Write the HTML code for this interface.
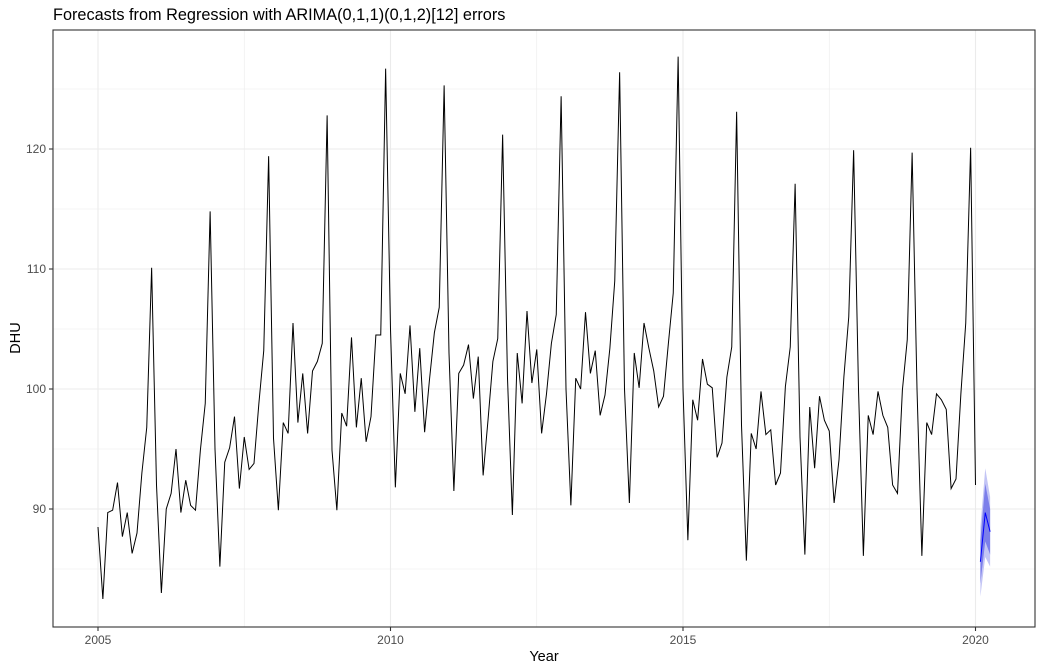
<!DOCTYPE html>
<html><head><meta charset="utf-8"><style>
body{margin:0;background:#fff;}
svg{display:block;font-family:"Liberation Sans",Arial,sans-serif;}
</style></head><body>
<svg id="chart" width="1043" height="671">
<text x="53" y="20" font-size="16.3" fill="#000">Forecasts from Regression with ARIMA(0,1,1)(0,1,2)[12] errors</text>
<g id="grid"></g>
<g id="band"></g>
<g id="lines"></g>
<rect x="53" y="30" width="982" height="597" fill="none" stroke="#333" stroke-width="1.1"/>
<g id="axes"></g>
<text x="544" y="661" font-size="14.5" text-anchor="middle" fill="#000">Year</text>
<text x="20" y="338" font-size="14.5" text-anchor="middle" fill="#000" transform="rotate(-90 20 338)">DHU</text>
</svg>
<script>
const startYear = 2005;
const dhu = [
88.5,82.5,89.7,89.9,92.2,87.7,89.7,86.3,88.0,93.0,96.8,110.1,
92.0,83.0,90.0,91.3,95.0,89.7,92.4,90.3,89.9,94.9,98.8,114.8,
95.0,85.2,93.9,95.1,97.7,91.7,96.0,93.3,93.8,98.8,103.2,119.4,
95.9,89.9,97.2,96.3,105.5,97.2,101.3,96.3,101.5,102.3,103.8,122.8,
94.9,89.9,98.0,96.9,104.3,96.8,100.9,95.6,97.7,104.5,104.5,126.7,
105.0,91.8,101.3,99.6,105.3,98.1,103.4,96.4,100.8,104.7,106.8,125.3,
103.0,91.5,101.3,102.0,103.7,99.2,102.7,92.8,97.4,102.3,104.2,121.2,
100.9,89.5,103.0,98.8,106.5,100.5,103.3,96.3,99.6,103.8,106.2,124.4,
100.0,90.3,100.9,100.0,106.4,101.3,103.2,97.8,99.5,103.4,109.0,126.4,
100.0,90.5,103.0,100.1,105.5,103.4,101.5,98.5,99.4,103.8,108.0,127.7,
100.0,87.4,99.1,97.4,102.5,100.4,100.1,94.3,95.5,101.0,103.5,123.1,
97.0,85.7,96.3,95.0,99.8,96.2,96.6,92.0,93.0,100.2,103.5,117.1,
96.0,86.2,98.5,93.4,99.4,97.4,96.5,90.5,94.1,101.0,106.0,119.9,
100.0,86.1,97.8,96.2,99.8,97.8,96.8,92.0,91.3,99.9,104.1,119.7,
100.0,86.1,97.2,96.2,99.6,99.1,98.3,91.7,92.5,99.6,105.5,120.1,
92.0];
const fcMonths = [1,2,3];
const fcMean = [85.6,89.7,88.1];
const lo80 = [83.8,87.3,86.2];
const hi80 = [87.4,92.1,90.0];
const lo95 = [82.7,86.0,85.2];
const hi95 = [88.5,93.4,91.0];
const xTicks = [2005,2010,2015,2020];
const yTicks = [90,100,110,120];

const NS="http://www.w3.org/2000/svg";
const X = t => 98 + (t-2005)*58.5;
const Y = v => 389 - (v-100)*12;
const xmin=53,xmax=1035,ymin=30,ymax=627;
function mk(tag, attrs, parent){const e=document.createElementNS(NS,tag);for(const k in attrs)e.setAttribute(k,attrs[k]);parent.appendChild(e);return e;}
const grid=document.getElementById('grid'), axes=document.getElementById('axes');
for(let v=85; v<=125; v+=10){
  const l=mk('line',{x1:xmin,x2:xmax,y1:Y(v),y2:Y(v),stroke:'#ebebeb','stroke-width':0.6},grid);
  
  
}
for(let t=2007.5; t<=2020; t+=5){
  const l=mk('line',{x1:X(t),x2:X(t),y1:ymin,y2:ymax,stroke:'#ebebeb','stroke-width':0.6},grid);
  
  
}
yTicks.forEach(v=>{
  const l=mk('line',{x1:xmin,x2:xmax,y1:Y(v),y2:Y(v),stroke:'#ebebeb','stroke-width':1.1},grid);
  
  
  const tk=mk('line',{x1:xmin-4,x2:xmin,y1:Y(v),y2:Y(v),stroke:'#333','stroke-width':1.1},axes);
  
  
  const tx=mk('text',{x:xmin-7,y:Y(v)+4,'font-size':12,'text-anchor':'end',fill:'#4d4d4d'},axes);
  tx.textContent=v;
  
  
});
xTicks.forEach(t=>{
  const l=mk('line',{x1:X(t),x2:X(t),y1:ymin,y2:ymax,stroke:'#ebebeb','stroke-width':1.1},grid);
  
  
  const tk=mk('line',{x1:X(t),x2:X(t),y1:ymax,y2:ymax+4,stroke:'#333','stroke-width':1.1},axes);
  
  
  const tx=mk('text',{x:X(t),y:ymax+17,'font-size':12,'text-anchor':'middle',fill:'#4d4d4d'},axes);
  tx.textContent=t;
  
  
});
const pts=dhu.map((v,i)=>X(startYear+i/12).toFixed(2)+','+Y(v).toFixed(2)).join(' ');
const line=mk('polyline',{points:pts,fill:'none',stroke:'#000','stroke-width':1},document.getElementById('lines'));


const band=document.getElementById('band');
const fx=fcMonths.map(m=>X(2020+m/12));
function bandPath(lo,hi){
  let d='M'+fx.map((x,i)=>x+','+Y(hi[i])).join(' L');
  for(let i=fx.length-1;i>=0;i--) d+=' L'+fx[i]+','+Y(lo[i]);
  return d+'Z';
}
const b95=mk('path',{d:bandPath(lo95,hi95),fill:'#c3c5f5'},band);


const b80=mk('path',{d:bandPath(lo80,hi80),fill:'#7c7fea'},band);


const fl=mk('polyline',{points:fx.map((x,i)=>x+','+Y(fcMean[i])).join(' '),fill:'none',stroke:'#0000ff','stroke-width':1},document.getElementById('lines'));


</script>
</body></html>
